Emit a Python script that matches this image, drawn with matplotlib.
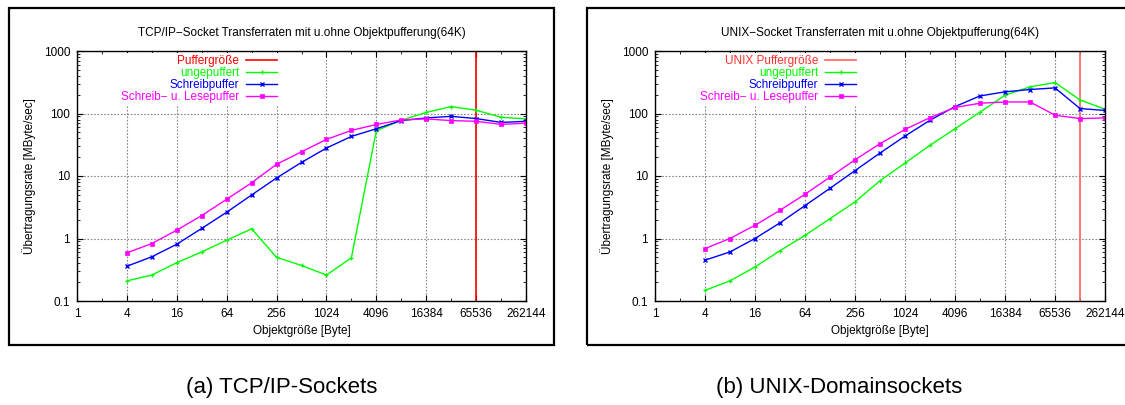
import matplotlib
matplotlib.use("Agg")
import matplotlib.pyplot as plt
from matplotlib.patches import Rectangle
from matplotlib.ticker import FixedLocator, NullFormatter, LogLocator

plt.rcParams['font.family'] = ['Liberation Sans', 'DejaVu Sans']

# ---------------- data ----------------
sizes = [4, 8, 16, 32, 64, 128, 256, 512, 1024, 2048, 4096, 8192,
         16384, 32768, 65536, 131072, 262144]
xticks = [1, 4, 16, 64, 256, 1024, 4096, 16384, 65536, 262144]
xtick_labels = ["1", "4", "16", "64", "256", "1024", "4096", "16384", "65536", "262144"]
yticks = [0.1, 1, 10, 100, 1000]
ytick_labels = ["0.1", "1", "10", "100", "1000"]

# TCP/IP sockets
tcp_unbuffered = [0.21, 0.26, 0.41, 0.61, 0.94, 1.43, 0.50, 0.37, 0.26, 0.49,
                  53, 78, 104, 129, 113, 87, 82]
tcp_write = [0.36, 0.51, 0.81, 1.45, 2.63, 4.97, 9.3, 16.5, 28, 43,
             57, 77, 85, 90, 83, 72, 75]
tcp_readwrite = [0.59, 0.83, 1.36, 2.33, 4.24, 7.8, 15.4, 24.4, 38.5, 53.6,
                 66.7, 79, 82, 77, 75, 67, 70]
tcp_buffer_size = 65536

# UNIX domain sockets
unix_unbuffered = [0.148, 0.21, 0.35, 0.64, 1.12, 2.08, 3.85, 8.4, 16.1, 31,
                   57, 105, 196, 267, 313, 165, 117]
unix_write = [0.45, 0.61, 1.0, 1.78, 3.36, 6.36, 12.2, 23.3, 43.5, 78,
              129, 191, 222, 242, 257, 120, 112]
unix_readwrite = [0.69, 1.0, 1.63, 2.83, 5.1, 9.6, 18.2, 32.8, 55.6, 86,
                  125, 146, 153, 153, 94, 83, 85]
unix_buffer_size = 131072

titles = ["TCP/IP\u2212Socket Transferraten mit u.ohne Objektpufferung(64K)",
          "UNIX\u2212Socket Transferraten mit u.ohne Objektpufferung(64K)"]
buffer_labels = ["Puffergröße", "UNIX Puffergröße"]
series_labels = ["ungepuffert", "Schreibpuffer", "Schreib\u2212 u. Lesepuffer"]
captions = ["(a) TCP/IP-Sockets", "(b) UNIX-Domainsockets"]
xlabel = "Objektgröße [Byte]"
ylabel = "Übertragungsrate [MByte/sec]"

# ---------------- figure ----------------
W, H = 1125, 405
fig = plt.figure(figsize=(W / 100, H / 100), dpi=100)

def fx(px):
    return px / W

def fy(py):
    return (H - py) / H

# outer frames
for (x0, x1) in [(9, 554), (587, 1135)]:
    fig.patches.append(Rectangle((fx(x0), fy(345)), fx(x1 - x0), (345 - 8) / H,
                                 transform=fig.transFigure, fill=False,
                                 edgecolor='black', linewidth=1.6, clip_on=False))

axes_px = [(77, 526), (655, 1105)]
datasets = [(tcp_unbuffered, tcp_write, tcp_readwrite, tcp_buffer_size, 'red', 'red'),
            (unix_unbuffered, unix_write, unix_readwrite, unix_buffer_size,
             '#ff6060', '#ff3030')]
caption_x = [281.5, 839]

FS = 8.5
for i, ((ax0, ax1), (unb, wr, rw, buf, bufcol, buftxt)) in enumerate(zip(axes_px, datasets)):
    ax = fig.add_axes([fx(ax0), fy(301), fx(ax1 - ax0), (301 - 51) / H])
    ax.set_xscale('log', base=2)
    ax.set_yscale('log')
    ax.set_xlim(1, 262144)
    ax.set_ylim(0.1, 1000)

    lbuf = ax.axvline(buf, color=bufcol, lw=1.2, label=buffer_labels[i], zorder=3)
    l1, = ax.plot(sizes, unb, color='#00ff00', lw=1.0, marker='+', ms=3.5, mew=0.9,
                  label=series_labels[0], zorder=4)
    l2, = ax.plot(sizes, wr, color='#0000ff', lw=1.0, marker='x', ms=3, mew=1.0,
                  label=series_labels[1], zorder=5)
    l3, = ax.plot(sizes, rw, color='#ff00ff', lw=1.0, marker='s', ms=2.6, mew=0.5,
                  label=series_labels[2], zorder=6)

    ax.xaxis.set_major_locator(FixedLocator(xticks))
    ax.set_xticklabels(xtick_labels)
    ax.xaxis.set_minor_locator(FixedLocator([2 ** k for k in range(1, 18, 2)]))
    ax.xaxis.set_minor_formatter(NullFormatter())
    ax.yaxis.set_major_locator(FixedLocator(yticks))
    ax.set_yticklabels(ytick_labels)
    ax.yaxis.set_minor_locator(LogLocator(base=10, subs=range(2, 10), numticks=20))
    ax.yaxis.set_minor_formatter(NullFormatter())

    ax.tick_params(which='both', direction='in', top=True, right=True,
                   labelsize=FS, colors='black')
    ax.tick_params(which='major', length=4, width=0.8, pad=5)
    ax.tick_params(which='minor', length=2, width=0.6)
    for sp in ax.spines.values():
        sp.set_linewidth(1.0)
        sp.set_color('black')
        sp.set_zorder(10)

    ax.grid(True, which='major', linestyle=(0, (1.5, 1.5)), color='#888888', lw=0.8)
    ax.set_axisbelow(True)

    ax.set_xlabel(xlabel, fontsize=FS)
    ax.xaxis.set_label_coords(0.5, (301 - 331) / 250)
    ax.xaxis.label.set_va('center')
    ax.set_ylabel(ylabel, fontsize=FS)
    ax.yaxis.set_label_coords(-0.107, 0.5)
    ax.yaxis.label.set_va('center')

    fig.text((ax0 + ax1) / 2 / W, fy(33), titles[i], ha='center', va='center',
             fontsize=8.5)

    leg = ax.legend(handles=[lbuf, l1, l2, l3], loc='upper right',
                    bbox_to_anchor=(((279.5 if i == 0 else 858.5) - ax0) / (ax1 - ax0), 0.993),
                    frameon=True, facecolor='white', edgecolor='none', framealpha=1.0,
                    fancybox=False, markerfirst=False, fontsize=FS,
                    handlelength=2.6, handletextpad=0.6, labelspacing=0.0,
                    borderpad=0.2, borderaxespad=0,
                    labelcolor=[buftxt, '#00ff00', '#0000ff', '#ff00ff'])
    leg.set_zorder(8)

    fig.text(caption_x[i] / W, fy(388), captions[i], ha='center', va='center',
             fontsize=16)

fig.savefig("out.png", dpi=100)
